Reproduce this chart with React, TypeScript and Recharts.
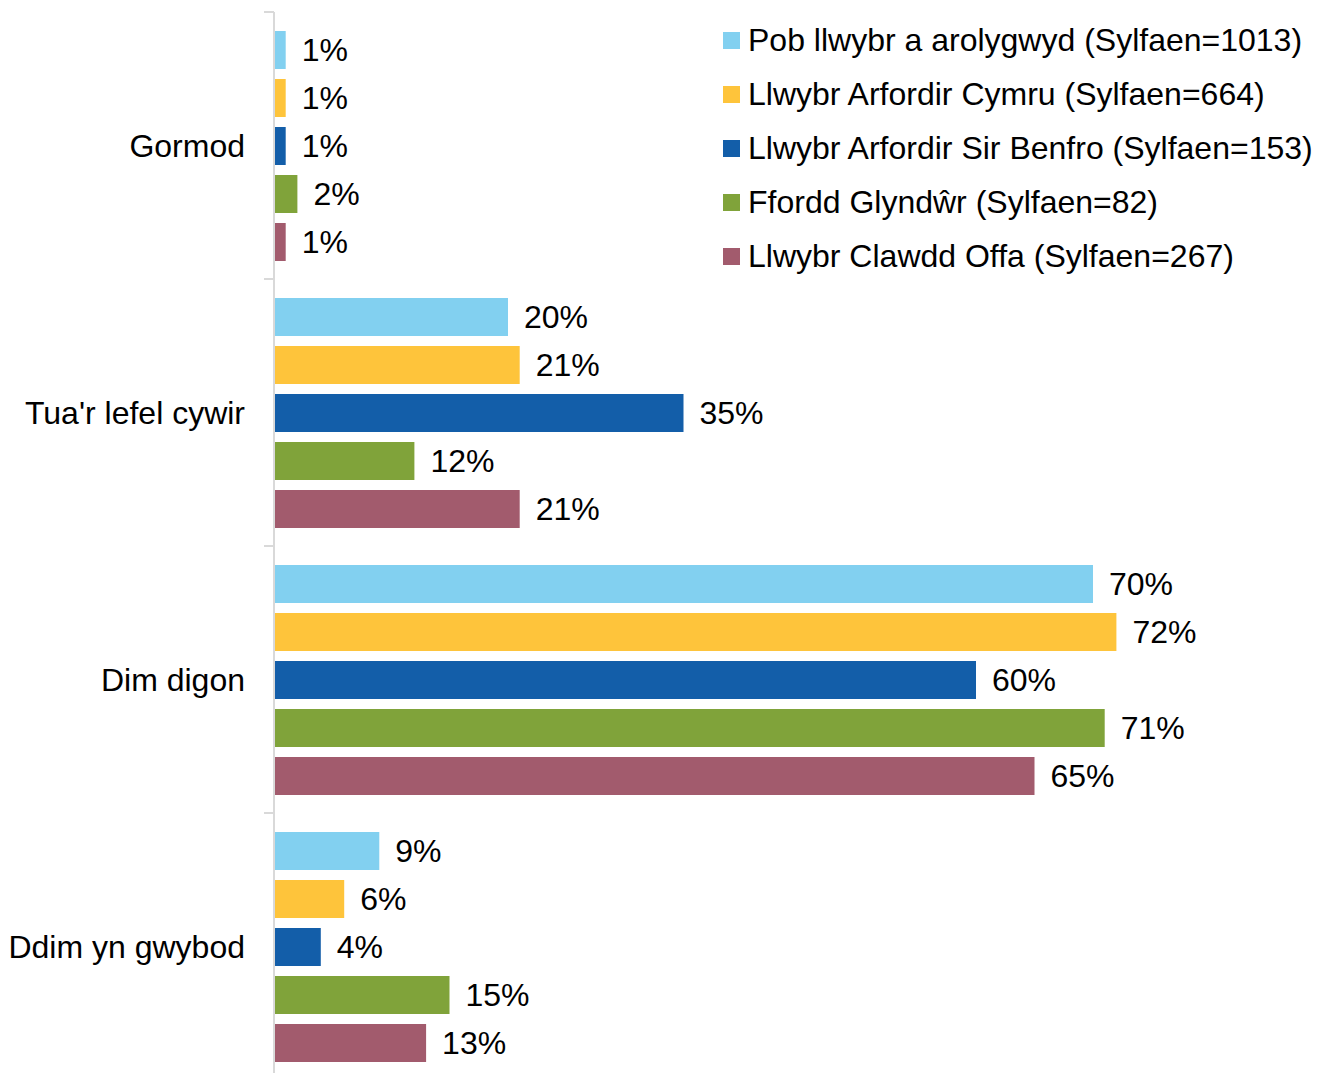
import React from "react";
import { BarChart, Bar, XAxis, YAxis, Legend, LabelList } from "recharts";

// categories (top to bottom)
const categories = ["Gormod", "Tua'r lefel cywir", "Dim digon", "Ddim yn gwybod"];

// series values, in %
const pobLlwybr = [1, 20, 70, 9];
const arfordirCymru = [1, 21, 72, 6];
const sirBenfro = [1, 35, 60, 4];
const glyndwr = [2, 12, 71, 15];
const clawddOffa = [1, 21, 65, 13];

const seriesNames = [
  "Pob llwybr a arolygwyd (Sylfaen=1013)",
  "Llwybr Arfordir Cymru (Sylfaen=664)",
  "Llwybr Arfordir Sir Benfro (Sylfaen=153)",
  "Ffordd Glyndŵr (Sylfaen=82)",
  "Llwybr Clawdd Offa (Sylfaen=267)",
];
const seriesColors = ["#82d0f0", "#fec43b", "#135ea9", "#80a33a", "#a25b6d"];

const data = categories.map((name, i) => ({
  name,
  s0: pobLlwybr[i],
  s1: arfordirCymru[i],
  s2: sirBenfro[i],
  s3: glyndwr[i],
  s4: clawddOffa[i],
}));

const FONT = "'Liberation Sans', Arial, sans-serif";
const FS = 32;
const W = 1327;
const H = 1083;
const TOP = 12;
const BOTTOM = 3;
const AXIS_W = 274;
const BAND = (H - TOP - BOTTOM) / categories.length;

// category label plus a small tick mark at the band boundaries (Excel style)
const CategoryTick = (props: any) => {
  const { y, payload, index } = props;
  const x0 = AXIS_W;
  return (
    <g>
      <text
        x={x0 - 29}
        y={y}
        textAnchor="end"
        dominantBaseline="central"
        fontSize={FS}
        fontFamily={FONT}
        fill="#000"
      >
        {payload.value}
      </text>
      <line x1={x0 - 10} x2={x0} y1={y - BAND / 2} y2={y - BAND / 2} stroke="#d9d9d9" strokeWidth={2} />
      {index === categories.length - 1 && (
        <line x1={x0 - 10} x2={x0} y1={y + BAND / 2} y2={y + BAND / 2} stroke="#d9d9d9" strokeWidth={2} />
      )}
    </g>
  );
};

const LegendBox = (props: any) => {
  const items = [...(props.payload || [])].sort(
    (a: any, b: any) => seriesNames.indexOf(a.value) - seriesNames.indexOf(b.value)
  );
  return (
    <div style={{ fontFamily: FONT, fontSize: FS, color: "#000" }}>
      {items.map((it: any) => (
        <div key={it.value} style={{ display: "flex", alignItems: "center", height: 54, whiteSpace: "nowrap" }}>
          <span style={{ display: "inline-block", width: 17, height: 17, background: it.color, marginRight: 8 }} />
          <span>{it.value}</span>
        </div>
      ))}
    </div>
  );
};

export default function App() {
  return (
    <div style={{ position: "fixed", top: 0, left: 0, width: W, height: 1073, overflow: "hidden", background: "#fff" }}>
      <BarChart
        width={W}
        height={H}
        data={data}
        layout="vertical"
        margin={{ top: TOP, right: 0, bottom: BOTTOM, left: 0 }}
        barSize={38}
        barGap={10}
      >
        <XAxis type="number" domain={[0, 90]} hide />
        <YAxis
          type="category"
          dataKey="name"
          width={AXIS_W}
          axisLine={{ stroke: "#d9d9d9", strokeWidth: 2 }}
          tickLine={false}
          tick={<CategoryTick />}
          interval={0}
        />
        <Legend
          layout="vertical"
          align="center"
          verticalAlign="middle"
          itemSorter={null}
          wrapperStyle={{ top: 13, left: 723, width: 604 }}
          content={<LegendBox />}
        />
        {seriesNames.map((n, i) => (
          <Bar key={n} dataKey={`s${i}`} name={n} fill={seriesColors[i]} isAnimationActive={false}>
            <LabelList
              dataKey={`s${i}`}
              position="right"
              offset={16}
              fill="#000"
              fontSize={FS}
              fontFamily={FONT}
              formatter={(v: any) => `${v}%`}
            />
          </Bar>
        ))}
      </BarChart>
    </div>
  );
}
